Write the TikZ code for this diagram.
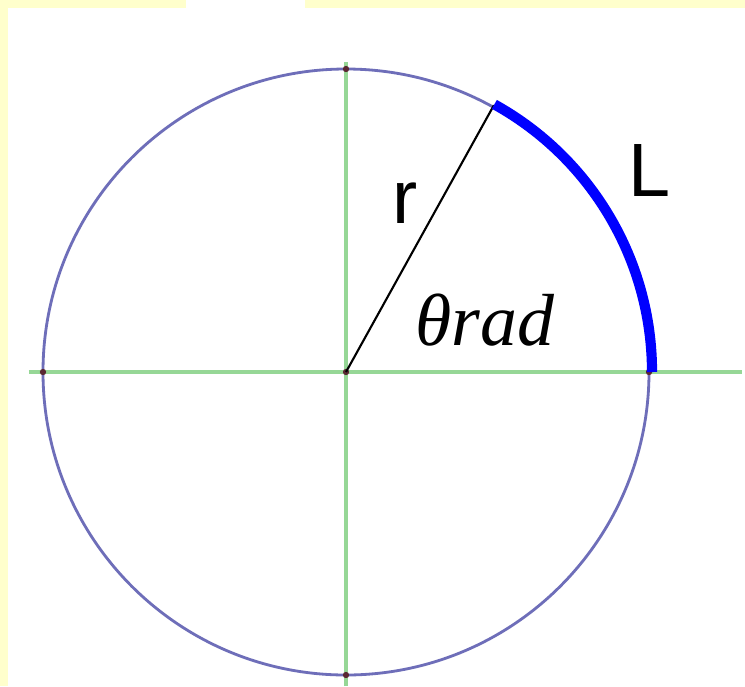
\documentclass[tikz,border=0pt]{standalone}
\usepackage{fontspec}
\newfontfamily\labelfont{Liberation Sans}
\newfontfamily\angfont{Liberation Serif}
\definecolor{paleyellow}{RGB}{255,255,204}
\definecolor{circleblue}{RGB}{110,110,185}
\definecolor{axisgreen}{RGB}{150,215,150}
\definecolor{tickdark}{RGB}{90,40,50}

\begin{document}
\begin{tikzpicture}[
  circ/.style={draw=circleblue, line width=0.8pt},
  axisline/.style={draw=axisgreen, line width=0.9pt},
  arclen/.style={draw=blue, line width=2.9pt},
  radius/.style={draw=black, line width=0.6pt},
  lab/.style={inner sep=0pt, anchor=base, font=\labelfont\fontsize{21.5}{24}\selectfont},
  dot/.style={circle, fill=tickdark, inner sep=0pt, minimum size=1.8pt}
  ]

  % Background and frame
  \fill[paleyellow] (0,0) rectangle (7.45,6.86);
  \fill[white] (0.08,0) rectangle (7.45,6.78);
  \fill[white] (1.86,6.78) rectangle (3.05,6.86);
  \useasboundingbox (0,0) rectangle (7.45,6.86);

  % Define nodes
  \coordinate (o) at (3.46,3.14);
  \coordinate (p) at (4.939,5.808);
  \coordinate (xl) at (0.29,3.14);
  \coordinate (xr) at (7.42,3.14);
  \coordinate (yb) at (3.46,0);
  \coordinate (yt) at (3.46,6.24);

  % Axes
  \draw[axisline] (xl) -- (xr);
  \draw[axisline] (yb) -- (yt);

  % Circle
  \draw[circ] (o) circle (3.03);

  % Small marks where axes meet the circle
  \node[dot] (c) at (o) {};
  \node[dot] (e) at (6.49,3.14) {};
  \node[dot] (w) at (0.43,3.14) {};
  \node[dot] (n) at (3.46,6.17) {};
  \node[dot] (s) at (3.46,0.11) {};

  % Radius and arc
  \draw[radius] (o) -- (p);
  \draw[arclen] (6.52,3.14) arc (0:61:3.06);

  % Labels
  \node[lab] (r) at (4.05,4.63) {r};
  \node[lab] (L) at (6.50,4.90) {L};
  \node[inner sep=0pt, anchor=base west, font=\angfont\itshape\fontsize{21}{24}\selectfont]
    (theta) at (4.15,3.41) {θrad};

\end{tikzpicture}
\end{document}
